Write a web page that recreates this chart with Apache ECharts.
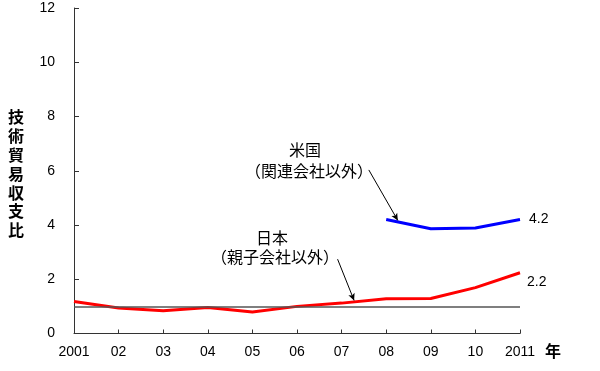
<!DOCTYPE html>
<html><head><meta charset="utf-8">
<script src="https://cdn.jsdelivr.net/npm/echarts@6/dist/echarts.min.js"></script>
<style>html,body{margin:0;padding:0;background:#fff}#c{width:600px;height:371px}</style>
</head><body><div id="c"></div>
<script>
const years = [2001,2002,2003,2004,2005,2006,2007,2008,2009,2010,2011];
const japan = [1.18,0.94,0.84,0.96,0.79,1.0,1.12,1.28,1.29,1.69,2.24];
const usYears = [2008,2009,2010,2011];
const us = [4.2,3.86,3.89,4.2];
const yTicks = [0,2,4,6,8,10,12];
const refValue = 1.0;
const yName = '技術貿易収支比';
const xName = '年';
const jpNote = ['日本','（親子会社以外）'];
const usNote = ['米国','（関連会社以外）'];

const numFont = '"Liberation Sans", Arial, sans-serif';
const jpFont = '"Noto Sans CJK JP", sans-serif';

const chart = echarts.init(document.getElementById('c'), null, {renderer:'canvas'});
const endFmt = p => Number(p.value[1]).toFixed(1);
chart.setOption({
  animation:false,
  backgroundColor:'#fff',
  grid:{left:74,right:80,top:8,bottom:37.5},
  xAxis:{type:'value',min:years[0],max:years[years.length-1],interval:1,
    axisLine:{lineStyle:{color:'#333',width:1}},
    axisTick:{inside:true,length:4,lineStyle:{color:'#333'}},
    splitLine:{show:false},
    axisLabel:{color:'#000',fontFamily:numFont,fontSize:14,margin:12,
      formatter:v=> (v===years[0]||v===years[years.length-1]) ? String(v) : String(v%100).padStart(2,'0')}},
  yAxis:{type:'value',min:yTicks[0],max:yTicks[yTicks.length-1],interval:2,
    axisLine:{show:true,lineStyle:{color:'#333',width:1}},
    axisTick:{show:true,inside:true,length:5,lineStyle:{color:'#333'}},
    splitLine:{show:false},
    axisLabel:{color:'#000',fontFamily:numFont,fontSize:14,margin:19}},
  series:[
    {type:'line',name:'日本',data:years.map((y,i)=>[y,japan[i]]),symbol:'none',
      lineStyle:{color:'#ff0000',width:3},itemStyle:{color:'#ff0000'},
      endLabel:{show:true,distance:7,offset:[0,9],color:'#000',fontFamily:numFont,fontSize:14,formatter:endFmt},
      markLine:{silent:true,symbol:['none','none'],label:{show:false},
        data:[
          [{coord:[years[0],refValue],lineStyle:{color:'#555',width:1.5,type:'solid'}},{coord:[years[years.length-1],refValue]}],
          [{coord:[2006.91,2.74],symbol:'none',lineStyle:{color:'#000',width:1,type:'solid'}},{coord:[2007.28,1.22],symbol:'arrow',symbolSize:[5,7]}]
        ]}},
    {type:'line',name:'米国',data:usYears.map((y,i)=>[y,us[i]]),symbol:'none',
      lineStyle:{color:'#0000ff',width:3},itemStyle:{color:'#0000ff'},
      endLabel:{show:true,distance:9,color:'#000',fontFamily:numFont,fontSize:14,formatter:endFmt},
      markLine:{silent:true,symbol:['none','none'],label:{show:false},
        data:[
          [{coord:[2007.61,6.03],symbol:'none',lineStyle:{color:'#000',width:1,type:'solid'}},{coord:[2008.26,4.17],symbol:'arrow',symbolSize:[5,7]}]
        ]}}
  ],
  graphic:[
    {type:'text',left:8,top:108,style:{text:yName.split('').join('\n'),font:'bold 16px '+jpFont,lineHeight:18.8,fill:'#000',align:'center'}},
    {type:'text',left:545,top:343,style:{text:xName,font:'bold 16px '+jpFont,fill:'#000'}},
    {type:'text',x:305,y:150,style:{text:usNote[0],font:'16px '+jpFont,fill:'#000',align:'center',verticalAlign:'middle'}},
    {type:'text',x:309,y:171,style:{text:usNote[1],font:'16px '+jpFont,fill:'#000',align:'center',verticalAlign:'middle'}},
    {type:'text',x:272,y:238,style:{text:jpNote[0],font:'16px '+jpFont,fill:'#000',align:'center',verticalAlign:'middle'}},
    {type:'text',x:275,y:257,style:{text:jpNote[1],font:'16px '+jpFont,fill:'#000',align:'center',verticalAlign:'middle'}}
  ]
});
</script></body></html>
